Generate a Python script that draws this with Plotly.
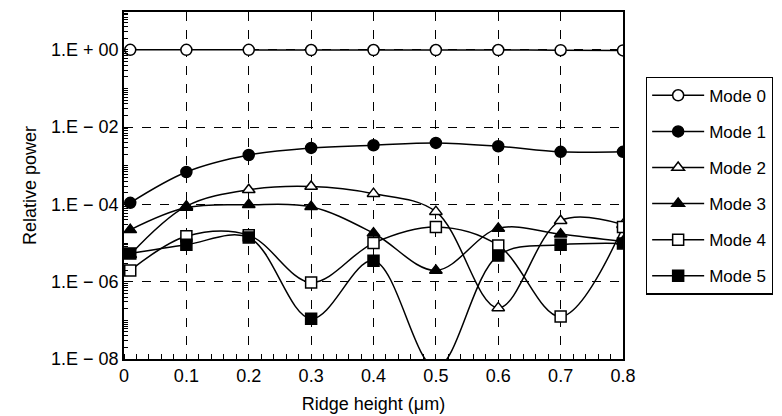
import plotly.graph_objects as go

ridge_height = [0.01, 0.1, 0.2, 0.3, 0.4, 0.5, 0.6, 0.7, 0.8]

mode0 = [1.0, 1.0, 1.0, 0.99, 0.99, 0.99, 0.99, 0.98, 0.97]
mode1 = [1.1e-4, 6.9e-4, 1.9e-3, 2.9e-3, 3.4e-3, 3.9e-3, 3.2e-3, 2.3e-3, 2.3e-3]
mode2 = [5.0e-6, 9.0e-5, 2.4e-4, 2.9e-4, 1.9e-4, 6.5e-5, 2.1e-7, 3.8e-5, 3.0e-5]
mode3 = [2.2e-5, 8.3e-5, 9.8e-5, 8.7e-5, 1.8e-5, 1.96e-6, 2.4e-5, 1.7e-5, 1.1e-5]
mode4 = [1.96e-6, 1.5e-5, 1.6e-5, 9.6e-7, 1.0e-5, 2.6e-5, 8.7e-6, 1.25e-7, 2.6e-5]
mode5 = [5.4e-6, 9.1e-6, 1.4e-5, 1.1e-7, 3.5e-6, 6.0e-9, 4.8e-6, 9.0e-6, 9.8e-6]

series_names = ["Mode 0", "Mode 1", "Mode 2", "Mode 3", "Mode 4", "Mode 5"]
series_values = [mode0, mode1, mode2, mode3, mode4, mode5]
symbols = ["circle", "circle", "triangle-up", "triangle-up", "square", "square"]
fills = ["white", "black", "white", "black", "white", "black"]

y_tick_vals = [1, 1e-2, 1e-4, 1e-6, 1e-8]
y_tick_text = ["1.E + 00", "1.E − 02", "1.E − 04", "1.E − 06", "1.E − 08"]
x_tick_vals = [0, 0.1, 0.2, 0.3, 0.4, 0.5, 0.6, 0.7, 0.8]
x_tick_text = ["0", "0.1", "0.2", "0.3", "0.4", "0.5", "0.6", "0.7", "0.8"]

fig = go.Figure()
for i, (name, vals) in enumerate(zip(series_names, series_values)):
    fig.add_trace(go.Scatter(
        x=ridge_height, y=vals, name=name, mode="lines+markers",
        legendgroup=name,
        line=dict(color="black", width=1.5, shape="spline", smoothing=1.0),
        marker=dict(symbol=symbols[i], size=11, color=fills[i],
                    line=dict(color="black", width=1.5)),
        cliponaxis=True,
    ))

font_family = "Liberation Sans, Arial, Helvetica, sans-serif"

# page body has an 8px margin, so the figure is made 8px smaller
fig.update_layout(
    width=774, height=408,
    margin=dict(l=116, r=159, t=2, b=57),
    paper_bgcolor="white", plot_bgcolor="white",
    font=dict(family=font_family, size=18, color="black"),
    showlegend=True,
    legend=dict(
        x=1.046, y=0.814, xanchor="left", yanchor="top",
        bordercolor="black", borderwidth=1.2, bgcolor="white",
        font=dict(size=17, family=font_family),
        tracegroupgap=11, itemwidth=52,
    ),
)

fig.update_xaxes(
    range=[0, 0.8], tickvals=x_tick_vals, ticktext=x_tick_text,
    showline=True, linecolor="black", linewidth=1.5, mirror=True,
    showgrid=True, gridcolor="black", gridwidth=0.8, griddash="dash",
    ticks="", zeroline=False,
    minor=dict(dtick=0.02, ticks="inside", ticklen=5, tickcolor="black", showgrid=False),
    tickfont=dict(size=18),
    title=dict(text="Ridge height (μm)", font=dict(size=18), standoff=12),
)

fig.update_yaxes(
    type="log", range=[-8, 0.98], tickvals=y_tick_vals, ticktext=y_tick_text,
    showline=True, linecolor="black", linewidth=1.5, mirror=True,
    showgrid=True, gridcolor="black", gridwidth=0.8, griddash="dash",
    ticks="", zeroline=False,
    minor=dict(dtick="D1", ticks="inside", ticklen=4, tickcolor="black", showgrid=False),
    tickfont=dict(size=18),
    title=dict(text="Relative power", font=dict(size=18), standoff=10),
)

fig.write_html("out.html")
